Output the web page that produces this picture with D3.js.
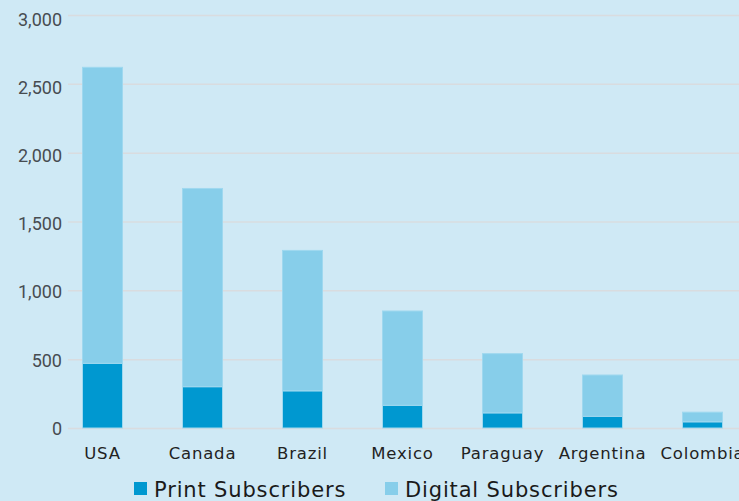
<!DOCTYPE html>
<html>
<head>
<meta charset="utf-8">
<script src="https://cdn.jsdelivr.net/npm/d3@7"></script>
<style>
  body { margin: 0; background: #cfe9f5; }
  svg { display: block; }
</style>
</head>
<body>
<div id="chart"></div>
<script>
  var width = 739, height = 501;
  var margin = { top: 15, right: 0, bottom: 73, left: 68 };

  // data
  var countries = ["USA", "Canada", "Brazil", "Mexico", "Paraguay", "Argentina", "Colombia"];
  var printSubs = [470, 300, 270, 165, 110, 85, 45];
  var digitalSubs = [2150, 1440, 1020, 685, 430, 300, 70];
  var seriesNames = ["Print Subscribers", "Digital Subscribers"];
  var seriesColors = ["#0098d0", "#87ceea"];
  var yTicks = [0, 500, 1000, 1500, 2000, 2500, 3000];

  var rows = countries.map(function(c, i) {
    return { country: c, print: printSubs[i], digital: digitalSubs[i] };
  });
  var stack = d3.stack().keys(["print", "digital"])(rows);

  var svg = d3.select("#chart").append("svg")
      .attr("width", width)
      .attr("height", height);

  var x = d3.scaleBand()
      .domain(countries)
      .range([52.5, 752.5])
      .paddingInner(0.6)
      .paddingOuter(0.3);

  var y = d3.scaleLinear()
      .domain([0, 3000])
      .range([428, 15]);

  // labels sit on a very slightly tighter scale than the gridlines
  var yLabel = d3.scaleLinear()
      .domain([0, 3000])
      .range([428.5, 19.5]);

  // gridlines
  svg.append("g")
      .selectAll("line")
      .data(yTicks).enter()
      .append("line")
      .attr("x1", margin.left)
      .attr("x2", width)
      .attr("y1", function(d) { return y(d) + 0.5; })
      .attr("y2", function(d) { return y(d) + 0.5; })
      .attr("stroke", "#d9dcdf")
      .attr("stroke-width", 1.5);

  // y axis labels
  var yAxis = svg.append("g")
      .attr("transform", "translate(" + (margin.left - 6) + ",0)")
      .call(d3.axisLeft(yLabel).tickValues(yTicks).tickSize(0).tickFormat(d3.format(",")));
  yAxis.select(".domain").remove();
  yAxis.selectAll("text")
      .attr("x", 0)
      .style("font-family", "Roboto, Arial, sans-serif")
      .style("font-size", "18px")
      .style("fill", "#474c51");

  // bars
  svg.selectAll(".layer")
      .data(stack).enter()
      .append("g")
      .attr("class", "layer")
      .attr("fill", function(d, i) { return seriesColors[i]; })
      .selectAll("rect")
      .data(function(d) { return d; }).enter()
      .append("rect")
      .attr("x", function(d) { return x(d.data.country); })
      .attr("width", x.bandwidth())
      .attr("y", function(d) { return y(d[1]); })
      .attr("height", function(d) { return y(d[0]) - y(d[1]); })
      .attr("stroke", "#9fd8ef")
      .attr("stroke-width", 1);

  // x axis labels
  var xAxis = svg.append("g")
      .attr("transform", "translate(0,428)")
      .call(d3.axisBottom(x).tickSize(0).tickPadding(19));
  xAxis.select(".domain").remove();
  xAxis.selectAll("text")
      .style("font-family", "'DejaVu Sans', Verdana, sans-serif")
      .style("font-size", "16.5px")
      .style("letter-spacing", "0.8px")
      .style("fill", "#222");

  // legend
  var legend = svg.append("g").attr("class", "legend");
  var legendX = [134, 385];
  var item = legend.selectAll("g")
      .data(seriesNames).enter()
      .append("g")
      .attr("transform", function(d, i) { return "translate(" + legendX[i] + ",482)"; });
  item.append("rect")
      .attr("width", 13)
      .attr("height", 13)
      .attr("fill", function(d, i) { return seriesColors[i]; });
  item.append("text")
      .attr("x", 20)
      .attr("y", 14.5)
      .style("font-family", "'DejaVu Sans', Verdana, sans-serif")
      .style("font-size", "21px")
      .style("letter-spacing", "0.85px")
      .style("fill", "#1a1a1a")
      .text(function(d) { return d; });
</script>
</body>
</html>
